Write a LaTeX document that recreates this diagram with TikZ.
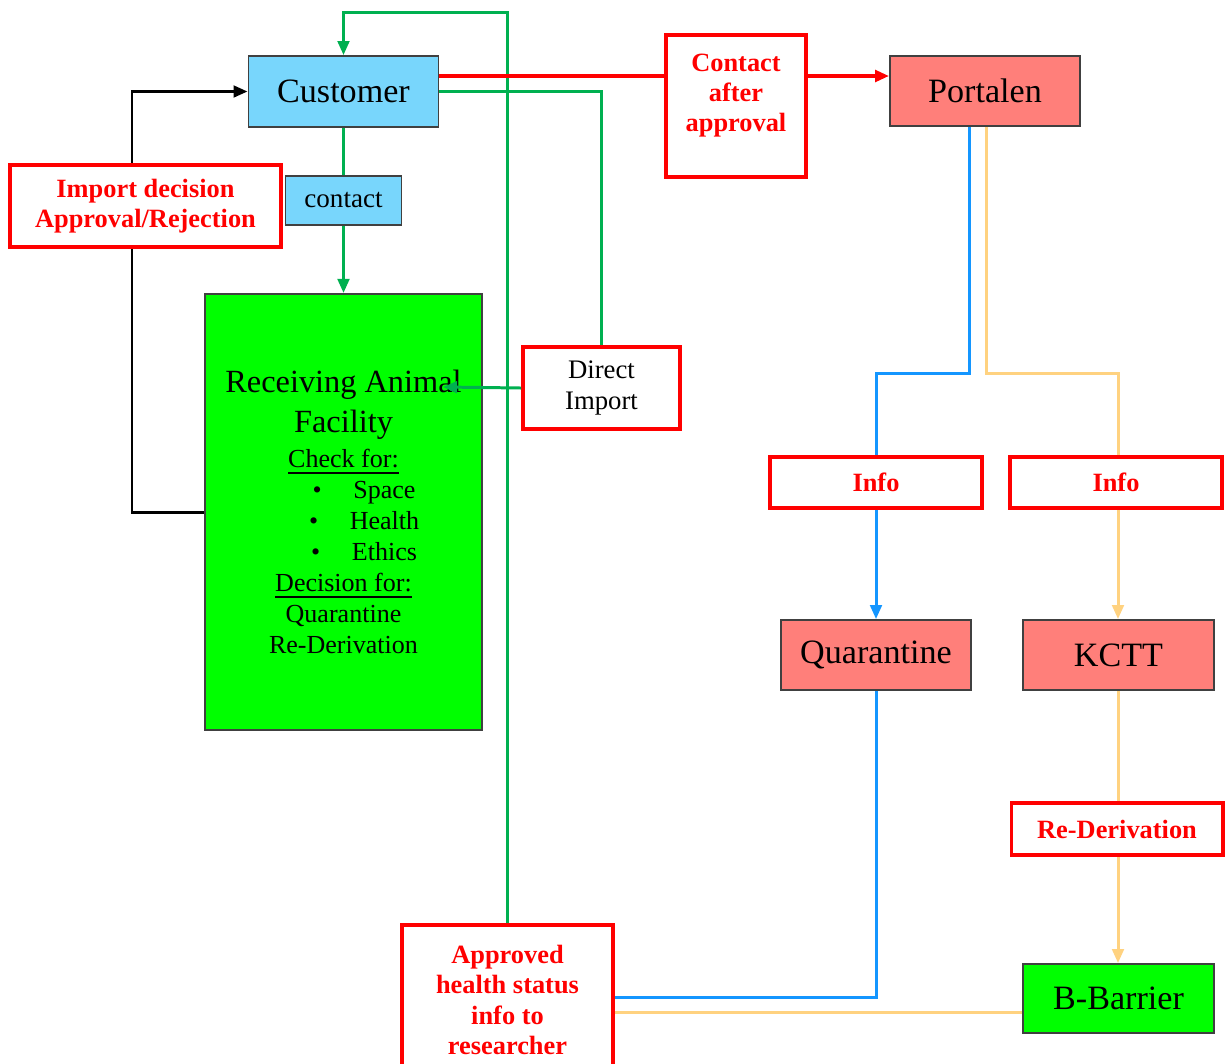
\documentclass[tikz,border=0pt]{standalone}
\usepackage{fontspec}
\setmainfont{Liberation Serif}
\usetikzlibrary{arrows.meta,backgrounds}
\definecolor{custblue}{RGB}{120,214,252}
\definecolor{portred}{RGB}{255,127,122}
\definecolor{rafgreen}{RGB}{0,255,0}
\definecolor{boxgray}{RGB}{64,64,64}
\definecolor{lgreen}{RGB}{0,176,80}
\definecolor{lblue}{RGB}{20,150,255}
\definecolor{lyellow}{RGB}{255,210,128}
\definecolor{rred}{RGB}{255,0,0}
\begin{document}
\begin{tikzpicture}[x=0.01cm,y=-0.01cm,
  box/.style={draw=boxgray, line width=0.5pt, inner sep=0pt, align=center},
  big/.style={font=\fontsize{9.7}{12}\selectfont},
  redbox/.style={draw=rred, line width=1.1pt, fill=white, inner sep=0pt, align=center,
     text=rred, font=\fontsize{7.5}{8.6}\selectfont\bfseries},
  conn/.style={line width=0.85pt},
  arr/.style={-{Triangle[length=4pt,width=3.3pt]}}
]
\useasboundingbox (0,0) rectangle (1230,1063);

% nodes
\node[box, fill=custblue, big, minimum width=1.90cm, minimum height=0.71cm] (cust) at (343.5,91.5) {Customer};
\node[box, fill=custblue, font=\fontsize{7.7}{9}\selectfont, minimum width=1.16cm, minimum height=0.49cm] (contact) at (343.5,200.5) {contact};
\node[redbox, minimum width=2.71cm, minimum height=0.82cm] (imp) at (145.5,206) {Import decision\\Approval/Rejection};
\node[box, fill=rafgreen, minimum width=2.77cm, minimum height=4.36cm, font=\fontsize{7.4}{8.8}\selectfont] (raf) at (343.5,512)
 {{\fontsize{9.2}{11}\selectfont Receiving Animal}\\[2.6pt]
  {\fontsize{9.2}{11}\selectfont Facility}\\[1.2pt]
  \underline{Check for:}\\
  \hspace*{11.7pt}\textbullet\hspace{9pt}Space\\
  \hspace*{11.7pt}\textbullet\hspace{9pt}Health\\
  \hspace*{11.7pt}\textbullet\hspace{9pt}Ethics\\
  \underline{Decision for:}\\
  Quarantine\\
  Re-Derivation};
\node[redbox, text=black, font=\fontsize{7.6}{8.8}\selectfont, minimum width=1.57cm, minimum height=0.82cm] (direct) at (601.5,388) {Direct\\Import};
\node[redbox, minimum width=1.40cm, minimum height=1.42cm,
  label={[yshift=3pt, text=rred, font=\fontsize{7.5}{8.6}\selectfont\bfseries, align=center]center:Contact\\after\\approval}] (cap) at (736,106) {};
\node[box, fill=portred, big, minimum width=1.90cm, minimum height=0.70cm] (port) at (985,91) {Portalen};
\node[redbox, minimum width=2.12cm, minimum height=0.51cm] (info1) at (876,482.5) {Info};
\node[redbox, minimum width=2.12cm, minimum height=0.51cm] (info2) at (1116,482.5) {Info};
\node[box, fill=portred, big, minimum width=1.90cm, minimum height=0.70cm] (quar) at (876,655) {Quarantine};
\node[box, fill=portred, big, minimum width=1.91cm, minimum height=0.70cm] (kctt) at (1118.5,655) {KCTT};
\node[redbox, minimum width=2.11cm, minimum height=0.52cm] (rederiv) at (1117,829) {Re-Derivation};
\node[box, fill=rafgreen, big, minimum width=1.91cm, minimum height=0.69cm] (bbar) at (1118.5,998.5) {B-Barrier};
\node[redbox, minimum width=2.11cm, minimum height=1.50cm] (appr) at (507.5,1000) {Approved\\health status\\info to\\researcher};

% helper coordinates
\coordinate (topy) at (0,12);
\coordinate (redy) at (0,76);
\coordinate (gy) at (0,91);
\coordinate (bx) at (132,0);
\coordinate (midy) at (0,373);
\coordinate (blx) at (969,0);
\coordinate (ylx) at (986,0);
\coordinate (yvx) at (1118,0);
\coordinate (bly) at (0,997);
\coordinate (yly) at (0,1012);
\coordinate (rafin) at (443,387);

\begin{scope}[on background layer]
\draw[conn, lgreen, arr] (appr.north) -- (appr.north |- topy) -| (cust.north);
\draw[line width=1.1pt, rred] (cust.east |- redy) -- (cap.west |- redy);
\draw[line width=1.1pt, rred, arr] (cap.east |- redy) -- (port.west |- redy);
\draw[conn, lgreen] (cust.east |- gy) -| (direct.north);
\draw[conn, lgreen] (cust.south) -- (contact.north);
\draw[conn, lgreen, arr] (contact.south) -- (raf.north);
\draw[conn, black, arr] (raf.west) -| (bx |- cust.west) -- (cust.west);
\draw[conn, lblue] (blx |- port.south) -- (blx |- midy) -| (info1.north);
\draw[conn, lblue, arr] (info1.south) -- (quar.north);
\draw[conn, lyellow] (ylx |- port.south) -- (ylx |- midy) -| (yvx |- info2.north);
\draw[conn, lyellow, arr] (yvx |- info2.south) -- (yvx |- kctt.north);
\draw[conn, lblue] (quar.south) |- (appr.east |- bly);
\draw[conn, lyellow] (bbar.west |- yly) -- (appr.east |- yly);
\draw[conn, lyellow] (yvx |- kctt.south) -- (yvx |- rederiv.north);
\draw[conn, lyellow, arr] (yvx |- rederiv.south) -- (yvx |- bbar.north);
\end{scope}
\draw[conn, lgreen, arr] (direct.west) -- (rafin);
\end{tikzpicture}
\end{document}
